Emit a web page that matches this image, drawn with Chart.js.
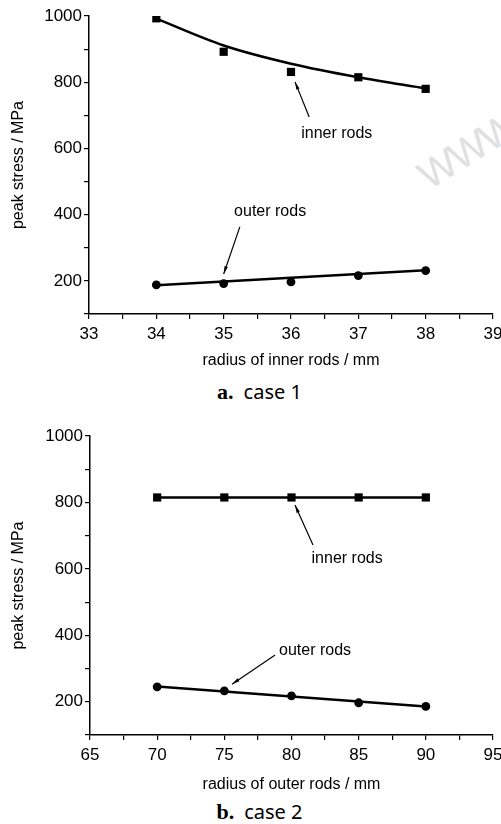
<!DOCTYPE html>
<html>
<head>
<meta charset="utf-8">
<script src="https://cdn.jsdelivr.net/npm/chart.js@4"></script>
<style>
  html, body { margin: 0; padding: 0; background: #fff; }
  body { width: 501px; height: 824px; position: relative; overflow: hidden; }
  .box { position: absolute; left: 0; width: 501px; }
  .cap { position: absolute; left: 0; width: 501px; text-align: center; font: 20px "Noto Sans", sans-serif; color: #000; padding-left: 18px; box-sizing: border-box; }
  .cap b { font: bold 22px "Liberation Serif", serif; margin-right: 10px; }
  .wm { position: absolute; left: 410px; top: 160px; font: 40px "Liberation Sans", sans-serif; font-weight: 300; color: #e0e0e0; transform: rotate(-32deg); transform-origin: left top; letter-spacing: -2px; }
</style>
</head>
<body>
<div class="wm">WWW</div>
<div class="box" style="top:0;height:375px"><canvas id="c1"></canvas></div>
<div class="cap" style="top:378px"><b>a.</b>case 1</div>
<div class="box" style="top:420px;height:378px"><canvas id="c2"></canvas></div>
<div class="cap" style="top:798px"><b>b.</b>case 2</div>
<script>
// case 1: radius of inner rods
const radiusInner = [34, 35, 36, 37, 38]
const innerStress1 = [993, 892, 831, 815, 780]
const innerFit1 = [992, 911, 856, 815, 781]
const outerStress1 = [188, 192, 197, 216, 231]
const outerFitX1 = [34, 38]
const outerFit1 = [187, 232]

// case 2: radius of outer rods
const radiusOuter = [70, 75, 80, 85, 90]
const innerStress2 = [815, 815, 815, 815, 815]
const innerFitX2 = [70, 90]
const innerFit2 = [815, 815]
const outerStress2 = [245, 233, 218, 197, 186]
const outerFitX2 = [70, 90]
const outerFit2 = [246, 186]

const yTicks = [100, 200, 300, 400, 500, 600, 700, 800, 900, 1000]

const FONT = '"Liberation Sans Narrow", "Arial Narrow", "Liberation Sans", sans-serif'

function pts(xs, ys) {
  return xs.map((x, i) => ({ x: x, y: ys[i] }))
}

// labels with arrows, placed in data units
const notesPlugin = {
  id: 'notes',
  afterDatasetsDraw(chart, args, opts) {
    const ctx = chart.ctx
    const sx = chart.scales.x
    const sy = chart.scales.y
    ctx.save()
    ctx.fillStyle = '#000'
    ctx.strokeStyle = '#000'
    ctx.lineWidth = 1.2
    ctx.font = '16px ' + FONT
    ctx.textAlign = 'center'
    ctx.textBaseline = 'middle'
    opts.items.forEach(n => {
      ctx.fillText(n.text, sx.getPixelForValue(n.tx), sy.getPixelForValue(n.ty))
      const x0 = sx.getPixelForValue(n.ax), y0 = sy.getPixelForValue(n.ay)
      const x1 = sx.getPixelForValue(n.bx), y1 = sy.getPixelForValue(n.by)
      ctx.beginPath()
      ctx.moveTo(x0, y0)
      ctx.lineTo(x1, y1)
      ctx.stroke()
      const a = Math.atan2(y1 - y0, x1 - x0)
      ctx.beginPath()
      ctx.moveTo(x1, y1)
      ctx.lineTo(x1 - 8 * Math.cos(a - 0.22), y1 - 8 * Math.sin(a - 0.22))
      ctx.lineTo(x1 - 8 * Math.cos(a + 0.22), y1 - 8 * Math.sin(a + 0.22))
      ctx.closePath()
      ctx.fill()
    })
    ctx.restore()
  }
}

function makeChart(id, cfg) {
  return new Chart(document.getElementById(id), {
    type: 'scatter',
    data: {
      datasets: [
        { data: cfg.innerFit, showLine: true, borderColor: '#000', borderWidth: 2.5, pointRadius: 0, cubicInterpolationMode: 'monotone' },
        { data: cfg.outerFit, showLine: true, borderColor: '#000', borderWidth: 2.5, pointRadius: 0 },
        { data: cfg.inner, pointStyle: 'rect', pointRadius: 5.8, backgroundColor: '#000', borderColor: '#000', borderWidth: 0 },
        { data: cfg.outer, pointStyle: 'circle', pointRadius: 4.4, backgroundColor: '#000', borderColor: '#000', borderWidth: 0 }
      ]
    },
    options: {
      responsive: true,
      maintainAspectRatio: false,
      animation: false,
      layout: { padding: { left: 0, right: 0, top: 16, bottom: 0 } },
      plugins: {
        legend: { display: false },
        tooltip: { enabled: false },
        notes: { items: cfg.notes }
      },
      scales: {
        x: {
          type: 'linear',
          min: cfg.xMin,
          max: cfg.xMax,
          afterBuildTicks: s => {
            s.ticks = cfg.xTicks.map(v => ({ value: v }))
          },
          afterFit: s => {
            s.height = cfg.xHeight
            s.paddingLeft = 0
            s.paddingRight = 8
          },
          grid: { drawOnChartArea: false, tickLength: 5, color: '#000', lineWidth: 1.2 },
          border: { display: true, color: '#000', width: 1.5 },
          ticks: {
            autoSkip: false, maxRotation: 0, padding: 5, color: '#000',
            font: { family: FONT, size: 17 },
            callback: v => (Number.isInteger(v) ? v : '')
          },
          title: { display: true, text: cfg.xTitle, color: '#000', font: { family: FONT, size: 16 }, padding: { top: 0, bottom: cfg.titlePad } }
        },
        y: {
          min: 100,
          max: 1000,
          afterBuildTicks: s => {
            s.ticks = yTicks.map(v => ({ value: v }))
          },
          afterFit: s => {
            s.width = cfg.yWidth
            s.paddingTop = 0
            s.paddingBottom = 0
          },
          grid: { drawOnChartArea: false, tickLength: 5, color: '#000', lineWidth: 1.2 },
          border: { display: true, color: '#000', width: 1.5 },
          ticks: {
            autoSkip: false, padding: 2, color: '#000',
            font: { family: FONT, size: 17 },
            callback: v => (v % 200 === 0 ? v : '')
          },
          title: { display: true, text: 'peak stress / MPa', color: '#000', font: { family: FONT, size: 16 }, padding: { top: 9, bottom: 0 } }
        }
      }
    },
    plugins: [notesPlugin]
  })
}

makeChart('c1', {
  inner: pts(radiusInner, innerStress1),
  innerFit: pts(radiusInner, innerFit1),
  outer: pts(radiusInner, outerStress1),
  outerFit: pts(outerFitX1, outerFit1),
  xMin: 33, xMax: 39,
  xTicks: [33, 33.5, 34, 34.5, 35, 35.5, 36, 36.5, 37, 37.5, 38, 38.5, 39],
  xTitle: 'radius of inner rods / mm',
  xHeight: 61, yWidth: 89, titlePad: 5,
  notes: [
    { text: 'inner rods', tx: 36.68, ty: 646, ax: 36.27, ay: 695, bx: 36.06, by: 801 },
    { text: 'outer rods', tx: 35.69, ty: 408, ax: 35.24, ay: 363, bx: 35.0, by: 221 }
  ]
})

makeChart('c2', {
  inner: pts(radiusOuter, innerStress2),
  innerFit: pts(innerFitX2, innerFit2),
  outer: pts(radiusOuter, outerStress2),
  outerFit: pts(outerFitX2, outerFit2),
  xMin: 65, xMax: 95,
  xTicks: [65, 67.5, 70, 72.5, 75, 77.5, 80, 82.5, 85, 87.5, 90, 92.5, 95],
  xTitle: 'radius of outer rods / mm',
  xHeight: 63, yWidth: 90, titlePad: 4,
  notes: [
    { text: 'inner rods', tx: 84.14, ty: 630, ax: 81.6, ay: 672, bx: 80.26, by: 792 },
    { text: 'outer rods', tx: 81.75, ty: 353, ax: 78.78, ay: 341, bx: 75.57, by: 253 }
  ]
})
</script>
</body>
</html>
